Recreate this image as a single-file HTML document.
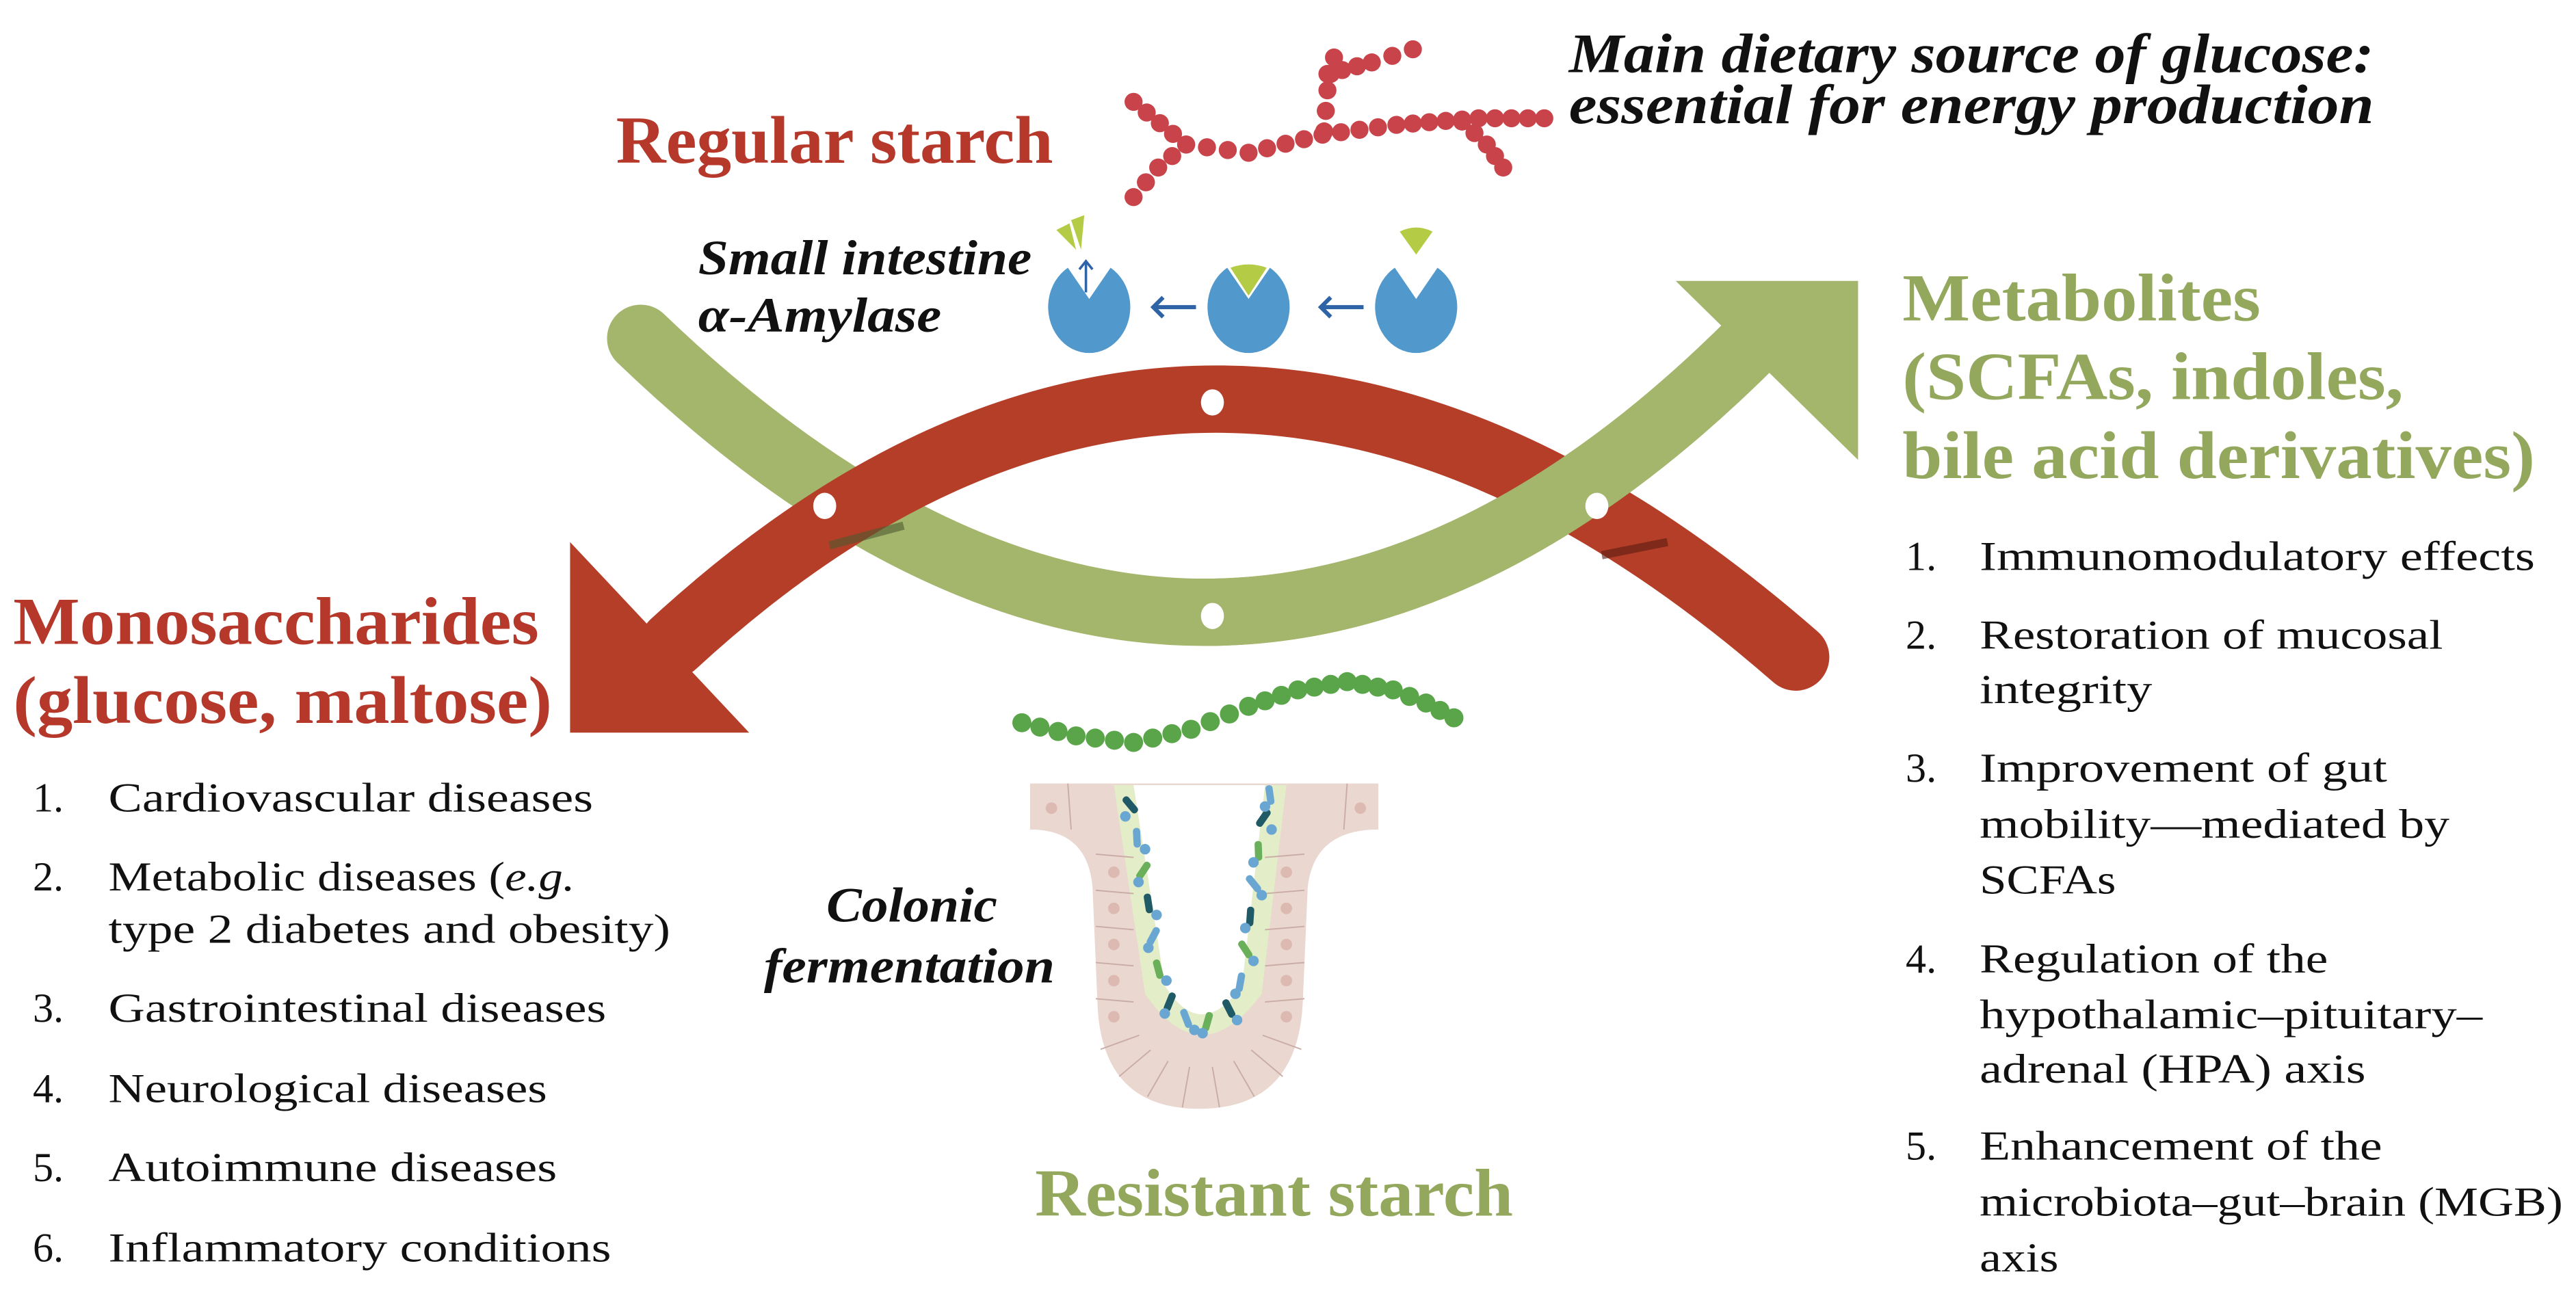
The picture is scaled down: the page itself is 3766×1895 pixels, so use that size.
<!DOCTYPE html>
<html><head><meta charset="utf-8"><style>
html,body{margin:0;padding:0;background:#fff;width:3766px;height:1895px;overflow:hidden}
svg{display:block}
text{font-family:"Liberation Serif",serif}
.h{font-weight:bold;font-size:41px}
.it{font-style:italic;font-weight:bold;font-size:30px;fill:#111}
.li{font-size:25px;fill:#111}
</style></head><body>
<svg id="s" width="3766" height="1895" viewBox="0 0 1568 789" xmlns="http://www.w3.org/2000/svg">
<defs><clipPath id="rh"><rect x="738" y="0" width="900" height="789"/></clipPath></defs>
<g id="g">
<path d="M390,206 Q738,540 1070,205" fill="none" stroke="#a4b56c" stroke-width="41" stroke-linecap="round"/>
<polygon points="1020,171 1131,171 1131,280" fill="#a4b56c"/>
</g>
<path d="M410,392 Q738,90 1093,400" fill="none" stroke="#b53e28" stroke-width="41" stroke-linecap="round"/>
<polygon points="347,330 347,446 456,446" fill="#b53e28"/>
<line x1="505" y1="332" x2="550" y2="320" stroke="#4e5a30" stroke-width="5" opacity="0.6"/>
<g clip-path="url(#rh)">
<path d="M390,206 Q738,540 1070,205" fill="none" stroke="#a4b56c" stroke-width="41" stroke-linecap="round"/>
</g>
<line x1="975" y1="338" x2="1015" y2="330" stroke="#5a1c10" stroke-width="5" opacity="0.6"/>
<g fill="#fff">
<ellipse cx="738" cy="245" rx="7" ry="8"/><ellipse cx="738" cy="375" rx="7" ry="8"/>
<ellipse cx="502" cy="308" rx="7" ry="8"/><ellipse cx="972" cy="308" rx="7" ry="8"/>
</g>
<g fill="#5198cc">
<path d="M650,163 L663,182 L676,163 A25,28 0 1 1 650,163Z"/>
<path d="M747,163 L760,182 L773,163 A25,28 0 1 1 747,163Z"/>
<path d="M849,163 L862,182 L875,163 A25,28 0 1 1 849,163Z"/>
</g>
<g fill="#b4cc45">
<path d="M749,163 Q760,159 771,163 L760,180Z"/>
<path d="M852,141 Q862,136 872,141 L862,155Z"/>
<path d="M643,140 L651,136 L655,152Z"/><path d="M652,134 L660,131 L658,152Z"/>
</g>
<g stroke="#2e63a6" stroke-width="2.5" fill="none">
<path d="M728,187 H702 M708,181 L702,187 L708,193"/>
<path d="M830,187 H804 M810,181 L804,187 L810,193"/>
<path d="M661,178 V160 M657,164 L661,159 L665,164" stroke-width="1.5"/>
</g>
<g id="beads"></g>
<g id="crypt">
<path d="M627,477 H839 V505 Q800,505 796,540 L793,610 Q790,675 730,675 Q670,675 668,610 L665,540 Q662,505 627,505 Z" fill="#ead7d0"/>
<path d="M678,478 L783,478 L768,605 Q731,655 697,605 Z" fill="#e3edc8"/>
<path d="M690,478 L770,478 L756,600 Q731,635 709,600 Z" fill="#fff"/>
<g id="cells"></g>
<g id="bact"></g>
</g>
<g style="font-style:italic;font-weight:bold;font-size:34px" fill="#111">
<text x="955" y="44" textLength="490" lengthAdjust="spacingAndGlyphs">Main dietary source of glucose:</text>
<text x="955" y="75" textLength="490" lengthAdjust="spacingAndGlyphs">essential for energy production</text>
</g>
<g lengthAdjust="spacingAndGlyphs">
<text x="375" y="99" class="h" fill="#b5382a" textLength="266" lengthAdjust="spacingAndGlyphs">Regular starch</text>
<text x="425" y="167" class="it" textLength="203" lengthAdjust="spacingAndGlyphs">Small intestine</text>
<text x="425" y="202" class="it" textLength="148" lengthAdjust="spacingAndGlyphs">α-Amylase</text>
<text x="1158" y="195" class="h" fill="#93a85c" textLength="218" lengthAdjust="spacingAndGlyphs">Metabolites</text>
<text x="1158" y="243" class="h" fill="#93a85c" textLength="305" lengthAdjust="spacingAndGlyphs">(SCFAs, indoles,</text>
<text x="1158" y="291" class="h" fill="#93a85c" textLength="385" lengthAdjust="spacingAndGlyphs">bile acid derivatives)</text>
<text x="8" y="392" class="h" fill="#b5382a" textLength="320" lengthAdjust="spacingAndGlyphs">Monosaccharides</text>
<text x="8" y="440" class="h" fill="#b5382a" textLength="328" lengthAdjust="spacingAndGlyphs">(glucose, maltose)</text>
<text x="503" y="561" class="it" textLength="104" lengthAdjust="spacingAndGlyphs">Colonic</text>
<text x="465" y="598" class="it" textLength="177" lengthAdjust="spacingAndGlyphs">fermentation</text>
<text x="630" y="740" class="h" fill="#93a85c" textLength="291" lengthAdjust="spacingAndGlyphs">Resistant starch</text>
</g>
<g class="li">
<text x="20" y="494">1.</text><text x="66" y="494" textLength="295" lengthAdjust="spacingAndGlyphs">Cardiovascular diseases</text>
<text x="20" y="542">2.</text><text x="66" y="542" textLength="284" lengthAdjust="spacingAndGlyphs">Metabolic diseases (<tspan font-style="italic">e.g.</tspan></text>
<text x="66" y="574" textLength="342" lengthAdjust="spacingAndGlyphs">type 2 diabetes and obesity)</text>
<text x="20" y="622">3.</text><text x="66" y="622" textLength="303" lengthAdjust="spacingAndGlyphs">Gastrointestinal diseases</text>
<text x="20" y="671">4.</text><text x="66" y="671" textLength="267" lengthAdjust="spacingAndGlyphs">Neurological diseases</text>
<text x="20" y="719">5.</text><text x="66" y="719" textLength="273" lengthAdjust="spacingAndGlyphs">Autoimmune diseases</text>
<text x="20" y="768">6.</text><text x="66" y="768" textLength="306" lengthAdjust="spacingAndGlyphs">Inflammatory conditions</text>

<text x="1160" y="347">1.</text><text x="1205" y="347" textLength="338" lengthAdjust="spacingAndGlyphs">Immunomodulatory effects</text>
<text x="1160" y="395">2.</text><text x="1205" y="395" textLength="282" lengthAdjust="spacingAndGlyphs">Restoration of mucosal</text>
<text x="1205" y="428" textLength="105" lengthAdjust="spacingAndGlyphs">integrity</text>
<text x="1160" y="476">3.</text><text x="1205" y="476" textLength="248" lengthAdjust="spacingAndGlyphs">Improvement of gut</text>
<text x="1205" y="510" textLength="286" lengthAdjust="spacingAndGlyphs">mobility—mediated by</text>
<text x="1205" y="544" textLength="83" lengthAdjust="spacingAndGlyphs">SCFAs</text>
<text x="1160" y="592">4.</text><text x="1205" y="592" textLength="212" lengthAdjust="spacingAndGlyphs">Regulation of the</text>
<text x="1205" y="626" textLength="306" lengthAdjust="spacingAndGlyphs">hypothalamic–pituitary–</text>
<text x="1205" y="659" textLength="235" lengthAdjust="spacingAndGlyphs">adrenal (HPA) axis</text>
<text x="1160" y="706">5.</text><text x="1205" y="706" textLength="245" lengthAdjust="spacingAndGlyphs">Enhancement of the</text>
<text x="1205" y="740" textLength="355" lengthAdjust="spacingAndGlyphs">microbiota–gut–brain (MGB)</text>
<text x="1205" y="774" textLength="48" lengthAdjust="spacingAndGlyphs">axis</text>
</g>
</svg>
<script>
var NS="http://www.w3.org/2000/svg";
function c(g,x,y,r,f){var e=document.createElementNS(NS,"circle");e.setAttribute("cx",x);e.setAttribute("cy",y);e.setAttribute("r",r);e.setAttribute("fill",f);g.appendChild(e);}
var B=document.getElementById("beads");
function line(pts,r,f,step){for(var i=0;i<pts.length-1;i++){var a=pts[i],b=pts[i+1];var d=Math.hypot(b[0]-a[0],b[1]-a[1]);var n=Math.max(1,Math.round(d/step));for(var k=0;k<n;k++){var t=k/n;c(B,a[0]+(b[0]-a[0])*t,a[1]+(b[1]-a[1])*t,r,f);}}c(B,pts[pts.length-1][0],pts[pts.length-1][1],r,f);}
var R="#c9434a";
line([[690,62],[722,88],[760,93],[805,82],[850,76],[900,72],[940,72]],5.5,R,11);
line([[722,88],[705,102],[690,120]],5.5,R,11);
line([[806,80],[808,55],[812,35]],5.5,R,11);
line([[808,45],[835,38],[860,30]],5.5,R,11);
line([[890,74],[905,88],[915,102]],5.5,R,11);
var G="#5aa54a";
line([[622,440],[655,448],[690,452],[725,444],[760,430],[790,420],[820,415],[848,420],[868,428],[885,437]],5.8,G,11);
var C=document.getElementById("cells");
function ln(x1,y1,x2,y2){var e=document.createElementNS(NS,"line");e.setAttribute("x1",x1);e.setAttribute("y1",y1);e.setAttribute("x2",x2);e.setAttribute("y2",y2);e.setAttribute("stroke","#c9ada5");e.setAttribute("stroke-width","0.8");C.appendChild(e);}
for(var y=520;y<=610;y+=22){ln(667,y,690,y+2);ln(770,y+2,794,y);c(C,678,y+11,3.5,"#dcbab1");c(C,783,y+11,3.5,"#dcbab1");}
ln(650,477,652,505);ln(820,477,818,505);c(C,640,492,3.5,"#dcbab1");c(C,828,492,3.5,"#dcbab1");
for(var a=20;a<=160;a+=20){var an=a*Math.PI/180;ln(731+40*Math.cos(an),620+30*Math.sin(an),731+65*Math.cos(an),620+55*Math.sin(an));}
var K=document.getElementById("bact");
var cols=["#1f5a66","#6aa6d2","#6aaf5a"];
var pts=[[688,490],[692,510],[696,530],[699,550],[702,570],[705,590],[712,610],[722,620],[735,622],[748,614],[755,598],[758,578],[761,558],[763,538],[766,518],[769,498],[773,484]];
pts.forEach(function(p,i){var e=document.createElementNS(NS,"rect");e.setAttribute("x",p[0]-2.2);e.setAttribute("y",p[1]-6);e.setAttribute("width",4.4);e.setAttribute("height",12);e.setAttribute("rx",2);e.setAttribute("fill",cols[i%3]);e.setAttribute("transform","rotate("+(i*37%80-40)+" "+p[0]+" "+p[1]+")");K.appendChild(e);c(K,p[0]+(i%2?5:-3),p[1]+7,3.2,"#6aa6d2");});
</script>
</body></html>
